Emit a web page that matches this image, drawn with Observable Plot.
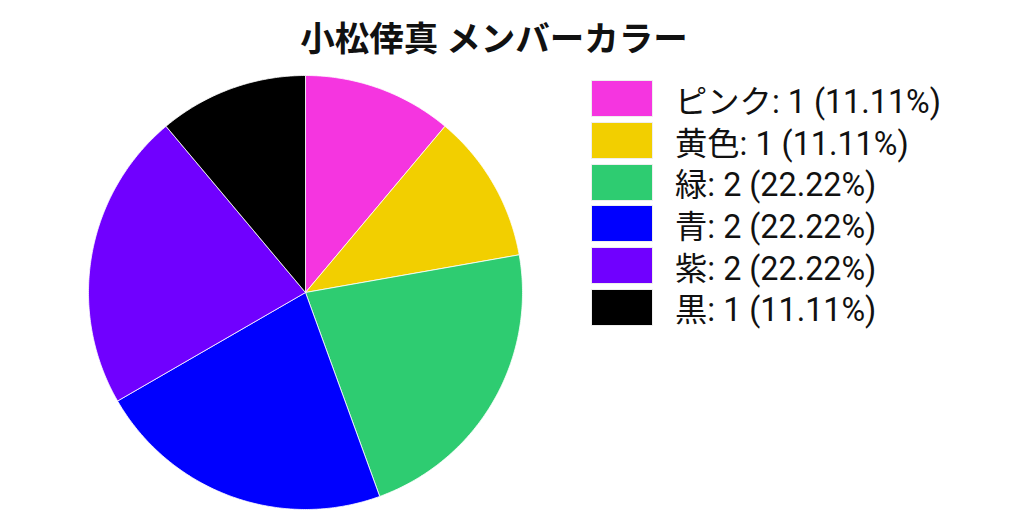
<!DOCTYPE html>
<html><head><meta charset="utf-8">
<script src="https://cdn.jsdelivr.net/npm/d3@7"></script>
<script src="https://cdn.jsdelivr.net/npm/@observablehq/plot@0.6"></script>
<style>
body{margin:0;background:#fff;font-family:"Noto Sans CJK JP",sans-serif;}
#wrap{position:relative;width:1024px;height:512px;}
#title{position:absolute;left:0;top:13px;width:988px;text-align:center;font-size:34.5px;font-weight:bold;color:#111;line-height:46px;}
#chart{position:absolute;left:0;top:65px;}
#legend{position:absolute;left:591px;top:78px;}
.row{display:flex;align-items:center;height:41.7px;}
.sw{width:60px;height:35px;border:1px solid #eee;margin-right:22px;}
.lab{font-family:"Roboto","Noto Sans CJK JP",sans-serif;font-size:32.3px;line-height:40px;color:#111;white-space:nowrap;position:relative;top:3px;}
</style></head><body>
<div id="wrap"><div id="title">小松倖真 メンバーカラー</div><div id="chart"></div><div id="legend"></div></div>
<script>
const categories = ["ピンク","黄色","緑","青","紫","黒"];
const counts = [1,1,2,2,2,1];
const colors = ["#f535e0","#f2cf00","#2ecc71","#0000ff","#7000ff","#000000"];

const total = d3.sum(counts);
const pie = d3.pie().sort(null).value(d => d.count)(categories.map((c,i)=>({name:c,count:counts[i],color:colors[i]})));
const marks = pie.map(p => {
  const pts = [[0,0]];
  const n = Math.max(2, Math.ceil((p.endAngle - p.startAngle) / 0.01));
  for (let k = 0; k <= n; k++) {
    const a = p.startAngle + (p.endAngle - p.startAngle) * k / n;
    pts.push([Math.sin(a), Math.cos(a)]);
  }
  pts.push([0,0]);
  return Plot.line(pts, {x: d => d[0], y: d => d[1], fill: p.data.color, stroke: "#fff", strokeWidth: 0.8, curve: "linear"});
});
const plot = Plot.plot({
  width: 1024, height: 447,
  marginLeft: 88, marginRight: 502, marginTop: 10, marginBottom: 3,
  x: {domain: [-1,1], axis: null},
  y: {domain: [-1,1], axis: null},
  marks
});
document.getElementById("chart").appendChild(plot);

const leg = document.getElementById("legend");
categories.forEach((c,i)=>{
  const row = document.createElement("div"); row.className="row";
  const sw = document.createElement("div"); sw.className="sw"; sw.style.background=colors[i];
  const lab = document.createElement("div"); lab.className="lab";
  lab.textContent = `${c}: ${counts[i]} (${(counts[i]/total*100).toFixed(2)}%)`;
  row.appendChild(sw); row.appendChild(lab); leg.appendChild(row);
});
</script></body></html>
